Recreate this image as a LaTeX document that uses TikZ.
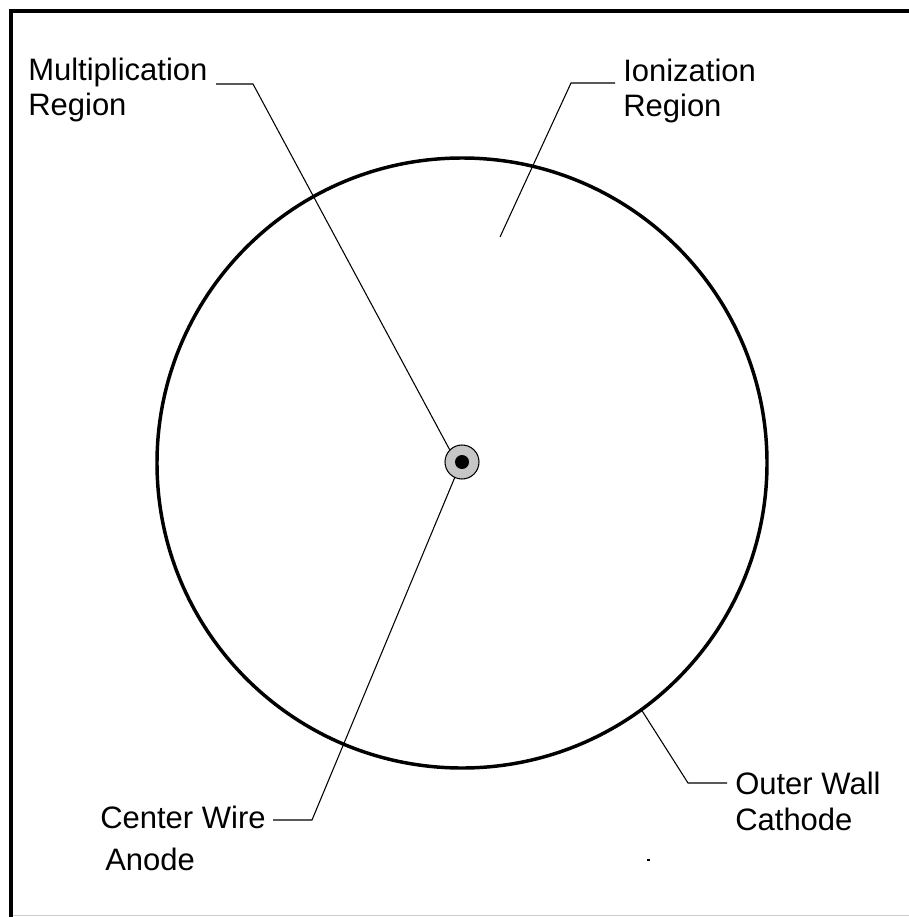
\documentclass[tikz,border=0pt]{standalone}
\usepackage{fontspec}
\setmainfont{Liberation Sans}
\usepackage{tikz}
\usetikzlibrary{positioning}

\begin{document}
\begin{tikzpicture}[
  x=0.75pt, y=-0.75pt,
  font=\fontsize{23.25}{26.25}\selectfont,
  lbl/.style={inner sep=0pt, align=left, anchor=base west},
  leader/.style={draw, line width=0.8pt},
  frameline/.style={line width=3pt, line join=miter},
]
\useasboundingbox (0,0) rectangle (909,917);

%--- frame ------------------------------------------------------------------
\draw[frameline] (11,917) -- (11,11) -- (909,11);
\draw[gray!40, line width=0.75pt] (13,915.5) -- (909,915.5);

%--- tube cross-section ------------------------------------------------------
\node[circle, draw, line width=2.6pt, minimum size=457.5pt, inner sep=0pt]
      (wall) at (462,463) {};
\node[circle, draw, line width=0.8pt, fill=gray!45, minimum size=25.5pt,
      inner sep=0pt] (mult) at (462,462) {};
\node[circle, fill=black, minimum size=10.5pt, inner sep=0pt]
      (wire) at (462,462) {};

%--- labels (anchored at the baseline of the last line) ----------------------
\node[lbl] (multlbl) at (28,115) {Multiplication\\Region};
\node[lbl] (ionlbl)  at (623,117) {Ionization\\Region};
\node[lbl] (wirelbl) at (100,870)
      {Center Wire\\[5.25pt]\hspace{3.75pt}Anode};
\node[lbl] (walllbl) at (735,830) {Outer Wall\\[0.75pt]Cathode};

%--- leader lines ------------------------------------------------------------
\coordinate (multA) at (216,84);
\coordinate (multB) at (253,84);
\draw[leader] (multA) -- (multB) -- (mult.135);

\coordinate (ionA) at (615,83);
\coordinate (ionB) at (571,83);
\coordinate (ionpt) at (500,237);
\draw[leader] (ionA) -- (ionB) -- (ionpt);

\coordinate (wireA) at (273,820);
\coordinate (wireB) at (312,820);
\draw[leader] (wireA) -- (wireB) -- (mult.245);

\coordinate (wallA) at (727,783);
\coordinate (wallB) at (688,783);
\draw[leader] (wallA) -- (wallB) -- (wall.-54);

% stray mark
\fill (647,859) rectangle (650,861);

\end{tikzpicture}
\end{document}
